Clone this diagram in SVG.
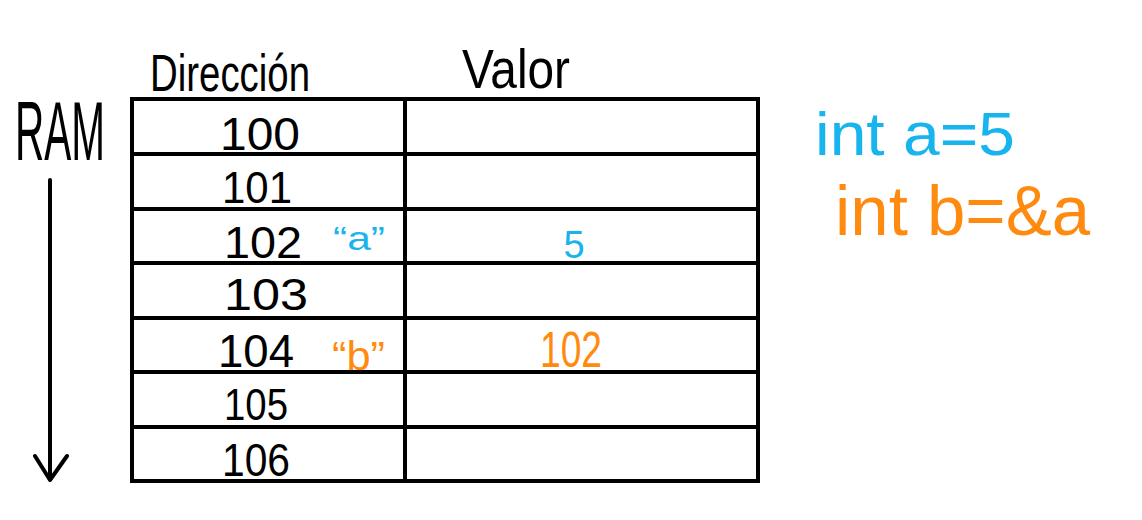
<svg xmlns="http://www.w3.org/2000/svg" width="1142" height="520" viewBox="0 0 1142 520">
<style>
.t{font-family:"Liberation Sans",Arial,sans-serif;fill:#000}
.c{text-anchor:middle}
.blue{fill:#17b4ee}
.orange{fill:#ff8a10}
.grid{stroke:#000;stroke-width:4;fill:none;stroke-linecap:square}
.arrow{stroke:#000;stroke-width:4;fill:none;stroke-linecap:round;stroke-linejoin:round}
</style>
<rect width="1142" height="520" fill="#fff"/>
<g id="headers">
<text class="t" x="150" y="91" font-size="52" textLength="160" lengthAdjust="spacingAndGlyphs">Dirección</text>
<text class="t" x="462" y="88" font-size="56" textLength="108" lengthAdjust="spacingAndGlyphs">Valor</text>
<text class="t" x="15" y="160" font-size="84" textLength="90" lengthAdjust="spacingAndGlyphs">RAM</text>
</g>
<g id="connectors">
<path class="arrow" d="M50 180 V480 M35 456 L50 480 L67 456"/>
</g>
<g id="table">
<rect class="grid" x="132" y="99" width="626" height="382"/>
<path class="grid" d="M405 99 V481 M132 154 H758 M132 209 H758 M132 263 H758 M132 318 H758 M132 372 H758 M132 427 H758"/>
</g>
<g id="addresses">
<text class="t" x="220" y="150" font-size="46" textLength="80" lengthAdjust="spacingAndGlyphs">100</text>
<text class="t" x="222" y="203" font-size="44" textLength="70" lengthAdjust="spacingAndGlyphs">101</text>
<text class="t" x="224" y="258" font-size="44" textLength="78" lengthAdjust="spacingAndGlyphs">102</text>
<text class="t" x="224" y="310" font-size="44" textLength="84" lengthAdjust="spacingAndGlyphs">103</text>
<text class="t" x="218" y="367" font-size="46" textLength="76" lengthAdjust="spacingAndGlyphs">104</text>
<text class="t" x="224" y="420" font-size="44" textLength="64" lengthAdjust="spacingAndGlyphs">105</text>
<text class="t" x="222" y="476" font-size="46" textLength="68" lengthAdjust="spacingAndGlyphs">106</text>
</g>
<g id="row-a">
<text class="t blue" x="333" y="250" font-size="34" textLength="52" lengthAdjust="spacingAndGlyphs">“a”</text>
<text class="t blue c" x="574" y="258" font-size="38">5</text>
</g>
<g id="row-b">
<text class="t orange" x="332" y="370" font-size="40" textLength="53" lengthAdjust="spacingAndGlyphs">“b”</text>
<text class="t orange" x="540" y="367" font-size="50" textLength="62" lengthAdjust="spacingAndGlyphs">102</text>
</g>
<g id="code">
<text class="t blue" x="815" y="155" font-size="62" textLength="200" lengthAdjust="spacingAndGlyphs">int a=5</text>
<text class="t orange" x="835" y="235" font-size="70" textLength="255" lengthAdjust="spacingAndGlyphs">int b=&amp;a</text>
</g>
</svg>
